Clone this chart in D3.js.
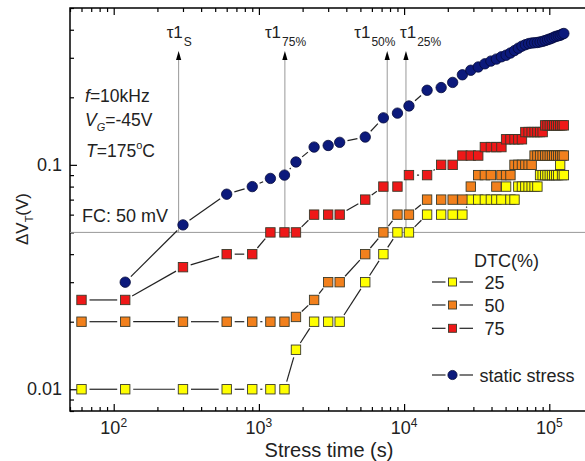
<!DOCTYPE html>
<html>
<head>
<meta charset="utf-8">
<script src="https://cdn.jsdelivr.net/npm/d3@7"></script>
<style>
  body { margin: 0; background: #fff; }
  svg { display: block; font-family: "Liberation Sans", Arial, sans-serif; }
</style>
</head>
<body>
<div id="chart"></div>
<script>
// stress time (s), shared by every series
const stressTime = [60, 120, 300, 600, 900, 1200, 1500, 1800, 2400, 3000, 3600, 5400, 7200, 9000, 10800,
  14400, 18000, 21600, 25200, 28800, 32400, 36000, 39600, 43200, 46800,
  50400, 54000, 57600, 61200, 64800, 68400, 72000, 75600, 79200, 82800,
  86400, 90000, 93600, 97200, 100800, 104400, 108000, 111600, 115200, 118800, 122400, 126000];

// delta V_T (V)
const dtc25 = [0.01, 0.01, 0.01, 0.01, 0.01, 0.01, 0.01, 0.015, 0.02, 0.02, 0.02, 0.03, 0.04, 0.05, 0.05,
  0.06, 0.06, 0.06, 0.06, 0.07, 0.07, 0.07, 0.07, 0.07, 0.07,
  0.08, 0.07, 0.07, 0.08, 0.08, 0.08, 0.08, 0.08, 0.08, 0.08,
  0.09, 0.09, 0.09, 0.09, 0.09, 0.09, 0.09, 0.09, 0.09, 0.10, 0.09, 0.09];
const dtc50 = [0.02, 0.02, 0.02, 0.02, 0.02, 0.02, 0.02, 0.021, 0.025, 0.03, 0.03, 0.04, 0.05, 0.06, 0.06,
  0.07, 0.07, 0.07, 0.07, 0.08, 0.09, 0.09, 0.09, 0.08, 0.09,
  0.09, 0.09, 0.10, 0.10, 0.10, 0.10, 0.10, 0.10, 0.11, 0.11,
  0.11, 0.11, 0.11, 0.11, 0.11, 0.11, 0.11, 0.11, 0.11, 0.11, 0.11, 0.11];
const dtc75 = [0.025, 0.025, 0.035, 0.04, 0.04, 0.05, 0.05, 0.05, 0.06, 0.06, 0.06, 0.07, 0.08, 0.08, 0.09,
  0.09, 0.10, 0.10, 0.11, 0.11, 0.11, 0.12, 0.12, 0.12, 0.12,
  0.13, 0.13, 0.13, 0.13, 0.13, 0.14, 0.14, 0.14, 0.14, 0.14,
  0.14, 0.14, 0.15, 0.15, 0.15, 0.15, 0.15, 0.15, 0.15, 0.15, 0.15, 0.15];
const staticStress = [null, 0.03, 0.054, 0.074, 0.080, 0.087, 0.090, 0.103, 0.120, 0.122, 0.126, 0.133, 0.162, 0.170, 0.183,
  0.215, 0.221, 0.233, 0.252, 0.264, 0.273, 0.282, 0.290, 0.296, 0.303,
  0.308, 0.315, 0.323, 0.331, 0.338, 0.343, 0.347, 0.349, 0.350, 0.351,
  0.353, 0.355, 0.358, 0.361, 0.364, 0.367, 0.371, 0.374, 0.376, 0.378, 0.382, 0.385];

const xMajor = [1e2, 1e3, 1e4, 1e5];
const xExponents = ["2", "3", "4", "5"];
const yMajor = [0.01, 0.1];
const yLabels = ["0.01", "0.1"];
const failureCriterion = 0.05;
const tauTimes = [280, 1510, 7650, 10300];
const tauSubs = ["S", "75%", "50%", "25%"];
const tauLabelShift = [-12, -20, -33, -6];
const legendTitle = "DTC(%)";
const dtcLabels = ["25", "50", "75"];

const width = 585, height = 461;

const x = d3.scaleLog().domain([50, 2e5]).range([70, 593]);
const y = d3.scaleLog().domain([0.008, 0.5]).range([411, 8]);

const svg = d3.select("#chart").append("svg")
    .attr("width", width)
    .attr("height", height);

// ticks (all pointing inwards)
const xMinor = x.ticks().filter(function(d) { return xMajor.indexOf(d) < 0; });
const yMinor = y.ticks().filter(function(d) { return Math.abs(Math.log10(d) - Math.round(Math.log10(d))) > 1e-6; });

function tickAxis(axis, values, size) {
    return axis.tickValues(values).tickSize(size).tickSizeOuter(0).tickFormat("");
}

const axes = [
    [d3.axisBottom, `translate(0,${y.range()[0]})`, x, xMajor, xMinor],
    [d3.axisTop, `translate(0,${y.range()[1]})`, x, xMajor, xMinor],
    [d3.axisLeft, `translate(${x.range()[0]},0)`, y, yMajor, yMinor],
    [d3.axisRight, `translate(${x.range()[1]},0)`, y, yMajor, yMinor]
];
axes.forEach(function(a) {
    [[a[3], -7], [a[4], -4]].forEach(function(t) {
        const g = svg.append("g")
            .attr("transform", a[1])
            .call(tickAxis(a[0](a[2]), t[0], t[1]));
        g.select(".domain").remove();
        g.selectAll("line").attr("stroke", "#000").attr("stroke-width", 1.2);
    });
});

// frame
svg.append("rect")
    .attr("x", x.range()[0])
    .attr("y", y.range()[1])
    .attr("width", x.range()[1] - x.range()[0])
    .attr("height", y.range()[0] - y.range()[1])
    .attr("fill", "none")
    .attr("stroke", "#000")
    .attr("stroke-width", 1.5);

// tick labels
const xLab = svg.append("g")
    .attr("font-size", 18)
    .attr("fill", "#222")
    .attr("text-anchor", "middle")
    .selectAll("text")
    .data(xMajor)
    .join("text")
    .attr("x", function(d) { return x(d); })
    .attr("y", 434);
xLab.append("tspan").text("10");
xLab.append("tspan")
    .attr("font-size", 12)
    .attr("dy", -7)
    .text(function(d, i) { return xExponents[i]; });

svg.append("g")
    .attr("font-size", 18)
    .attr("fill", "#222")
    .attr("text-anchor", "end")
    .selectAll("text")
    .data(yMajor)
    .join("text")
    .attr("x", 62)
    .attr("y", function(d) { return y(d) + 6; })
    .text(function(d, i) { return yLabels[i]; });

// axis titles
svg.append("text")
    .attr("x", 329)
    .attr("y", 457)
    .attr("font-size", 20)
    .attr("fill", "#222")
    .attr("text-anchor", "middle")
    .text("Stress time (s)");

const yTitle = svg.append("text")
    .attr("transform", "translate(28,219) rotate(-90)")
    .attr("font-size", 17)
    .attr("fill", "#222")
    .attr("text-anchor", "middle");
yTitle.append("tspan").text("\u0394V");
yTitle.append("tspan").attr("font-size", 11).attr("dy", 5).text("T");
yTitle.append("tspan").attr("dy", -5).text("(V)");

// failure criterion line and tau arrows
svg.append("line")
    .attr("x1", x.range()[0])
    .attr("x2", x.range()[1])
    .attr("y1", y(failureCriterion))
    .attr("y2", y(failureCriterion))
    .attr("stroke", "#999")
    .attr("stroke-width", 1);

const tau = svg.append("g")
    .selectAll("g")
    .data(tauTimes)
    .join("g")
    .attr("transform", function(d) { return `translate(${x(d)},0)`; });
tau.append("line")
    .attr("y1", y(failureCriterion))
    .attr("y2", 58)
    .attr("stroke", "#999")
    .attr("stroke-width", 1);
tau.append("path")
    .attr("d", "M0,51L-2.6,60L2.6,60Z")
    .attr("fill", "#000");
const tauText = tau.append("text")
    .attr("x", function(d, i) { return tauLabelShift[i]; })
    .attr("y", 38)
    .attr("font-size", 17)
    .attr("fill", "#222");
tauText.append("tspan").text("\u03c41");
tauText.append("tspan")
    .attr("font-size", 12)
    .attr("dx", 1)
    .attr("dy", 8)
    .text(function(d, i) { return tauSubs[i]; });

// conditions text
const notes = svg.append("g").attr("font-size", 17.5).attr("fill", "#222");
const n1 = notes.append("text").attr("x", 85).attr("y", 102);
n1.append("tspan").attr("font-style", "italic").text("f");
n1.append("tspan").text("=10kHz");
const n2 = notes.append("text").attr("x", 85).attr("y", 126);
n2.append("tspan").attr("font-style", "italic").text("V");
n2.append("tspan").attr("font-style", "italic").attr("font-size", 11).attr("dy", 5).text("G");
n2.append("tspan").attr("dy", -5).text("=-45V");
const n3 = notes.append("text").attr("x", 86).attr("y", 157);
n3.append("tspan").attr("font-style", "italic").text("T");
n3.append("tspan").text("=175");
n3.append("tspan").attr("font-size", 11).attr("dy", -8).text("o");
n3.append("tspan").attr("dy", 8).text("C");
notes.append("text").attr("x", 82).attr("y", 222).attr("font-size", 18).text("FC: 50 mV");

// series
const series = [
    { key: "25", values: dtc25, fill: "#ffff00", shape: "square" },
    { key: "50", values: dtc50, fill: "#f2801c", shape: "square" },
    { key: "75", values: dtc75, fill: "#ee1818", shape: "square" },
    { key: "static", values: staticStress, fill: "#0c1a7c", shape: "circle" }
];

function gappedSegments(pts, gap) {
    const segs = [];
    for (let i = 1; i < pts.length; i++) {
        const a = pts[i - 1], b = pts[i];
        const dx = b[0] - a[0], dy = b[1] - a[1];
        const d = Math.sqrt(dx * dx + dy * dy);
        if (d <= 2 * gap + 1) continue;
        const ux = dx / d, uy = dy / d;
        segs.push([a[0] + ux * gap, a[1] + uy * gap, b[0] - ux * gap, b[1] - uy * gap]);
    }
    return segs;
}

series.forEach(function(s) {
    const pts = stressTime.map(function(t, i) { return [t, s.values[i]]; })
        .filter(function(p) { return p[1] != null; })
        .map(function(p) { return [x(p[0]), y(p[1])]; });
    const g = svg.append("g").attr("class", "series-" + s.key);
    g.selectAll("line")
        .data(gappedSegments(pts, 8))
        .join("line")
        .attr("x1", function(d) { return d[0]; })
        .attr("y1", function(d) { return d[1]; })
        .attr("x2", function(d) { return d[2]; })
        .attr("y2", function(d) { return d[3]; })
        .attr("stroke", "#222")
        .attr("stroke-width", 1.2);
    if (s.shape === "square") {
        g.selectAll("rect")
            .data(pts)
            .join("rect")
            .attr("x", function(d) { return d[0] - 4.7; })
            .attr("y", function(d) { return d[1] - 4.7; })
            .attr("width", 9.4)
            .attr("height", 9.4)
            .attr("fill", s.fill)
            .attr("stroke", "#3a3a2a")
            .attr("stroke-width", 0.9);
    } else {
        g.selectAll("circle")
            .data(pts)
            .join("circle")
            .attr("cx", function(d) { return d[0]; })
            .attr("cy", function(d) { return d[1]; })
            .attr("r", 5.2)
            .attr("fill", s.fill)
            .attr("stroke", "#050a3a")
            .attr("stroke-width", 0.8);
    }
});

// legend
const legend = svg.append("g").attr("font-size", 18).attr("fill", "#222");
legend.append("text").attr("x", 474).attr("y", 267).text(legendTitle);
const legendRows = [282, 305, 328.3, 375];
const lg = legend.selectAll("g.entry")
    .data(series)
    .join("g")
    .attr("class", "entry")
    .attr("transform", function(d, i) { return `translate(452.5,${legendRows[i]})`; });
lg.append("line").attr("x1", -20.5).attr("x2", -7).attr("stroke", "#222").attr("stroke-width", 1.2);
lg.append("line").attr("x1", 7).attr("x2", 20.5).attr("stroke", "#222").attr("stroke-width", 1.2);
lg.filter(function(d) { return d.shape === "square"; })
    .append("rect")
    .attr("x", -4).attr("y", -4).attr("width", 8).attr("height", 8)
    .attr("fill", function(d) { return d.fill; })
    .attr("stroke", "#3a3a2a").attr("stroke-width", 0.9);
lg.filter(function(d) { return d.shape === "circle"; })
    .append("circle")
    .attr("r", 4.6)
    .attr("fill", function(d) { return d.fill; })
    .attr("stroke", "#050a3a").attr("stroke-width", 0.8);
lg.append("text")
    .attr("x", function(d) { return d.shape === "circle" ? 27 : 32; })
    .attr("y", 7)
    .text(function(d, i) { return i < 3 ? dtcLabels[i] : "static stress"; });
</script>
</body>
</html>
